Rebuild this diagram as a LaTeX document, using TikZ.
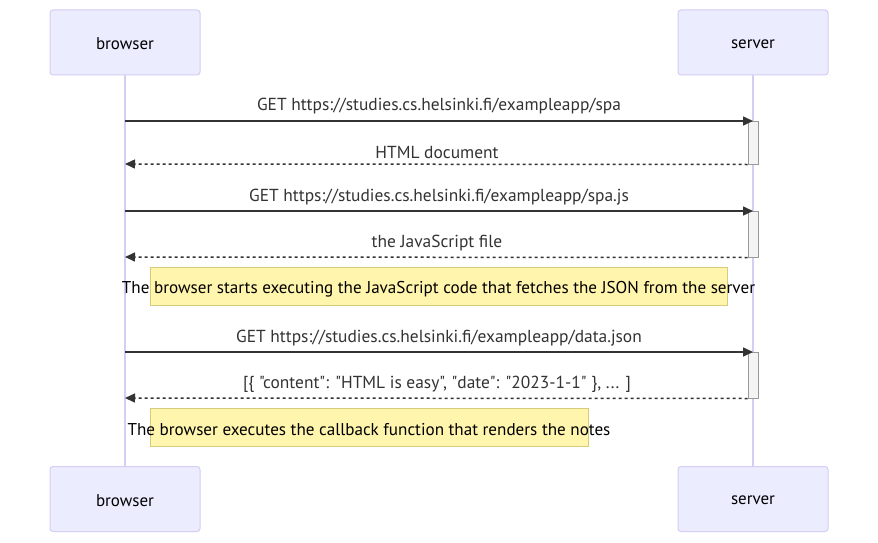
\documentclass[tikz,border=0pt]{standalone}
\usepackage{fontspec}
\setmainfont{PT Sans}[Ligatures=TeXOff]
\usetikzlibrary{arrows.meta}
\definecolor{actfill}{HTML}{ECECFF}
\definecolor{actline}{HTML}{D5CDF3}
\definecolor{notefill}{HTML}{FFF5AD}
\definecolor{noteline}{HTML}{D4CC7A}
\definecolor{sig}{HTML}{333333}
\definecolor{actvfill}{HTML}{F4F4F4}
\definecolor{actvline}{HTML}{999999}
\tikzset{
  actor/.style={draw=actline, fill=actfill, line width=1pt, rounded corners=3pt, minimum width=150pt, minimum height=65pt},
  actortext/.style={font=\fontsize{17}{19}\selectfont, text=black, inner sep=0pt},
  lifeline/.style={draw=actline, line width=1.5pt},
  msg/.style={draw=sig, line width=1.5pt, -{Triangle[length=10pt,width=9pt]}},
  ret/.style={msg, dash pattern=on 3pt off 3pt},
  lbl/.style={font=\fontsize{17.4}{19}\selectfont, text=sig, inner sep=0pt},
  notebox/.style={draw=noteline, fill=notefill, line width=1pt, minimum height=38pt, inner sep=0pt},
  notetext/.style={font=\fontsize{17.1}{19}\selectfont, text=black, inner sep=0pt},
  activ/.style={draw=actvline, fill=actvfill, line width=1pt, minimum width=10pt, inner sep=0pt},
}
\begin{document}
\begin{tikzpicture}[x=1pt,y=-1pt]
\useasboundingbox (0,0) rectangle (878,543);
\fill[white] (0,0) rectangle (878,543);
% actors
\node[actor] (bt) at (125,42.5) {};
\node[actor] (st) at (753,42.5) {};
\node[actor] (bb) at (125,499) {};
\node[actor] (sb) at (753,499) {};
\node[actortext] at ([yshift=-1.5pt]bt.center) {browser};
\node[actortext] at ([yshift=-1.5pt]st.center) {server};
\node[actortext] at ([yshift=-1.5pt]bb.center) {browser};
\node[actortext] at ([yshift=-1.5pt]sb.center) {server};
% lifelines
\draw[lifeline] (bt.south) -- (bb.north);
\draw[lifeline] (st.south) -- (sb.north);
% activations
\node[activ, minimum height=43pt] (a1) at (753,142.5) {};
\node[activ, minimum height=46pt] (a2) at (753,234) {};
\node[activ, minimum height=46pt] (a3) at (753,375) {};
% coordinates
\coordinate (b1) at (125,121); \coordinate (s1) at (753,121);
\coordinate (b2) at (125,164);
\coordinate (b3) at (125,211); \coordinate (s3) at (753,211);
\coordinate (b4) at (125,257);
\coordinate (b5) at (125,352); \coordinate (s5) at (753,352);
\coordinate (b6) at (125,398);
% messages
\draw[msg] (b1) -- (s1);
\node[lbl] (l1) at (439,106) {GET https://studies.cs.helsinki.fi/exampleapp/spa};
\draw[ret] (a1.south west) -- (b2);
\node[lbl] (l2) at (437,153) {HTML document};
\draw[msg] (b3) -- (s3);
\node[lbl] (l3) at (439,197) {GET https://studies.cs.helsinki.fi/exampleapp/spa.js};
\draw[ret] (a2.south west) -- (b4);
\node[lbl] (l4) at (437,243) {the JavaScript file};
% note 1
\node[notebox, minimum width=577pt] (n1) at (438.5,286) {};
\node[notetext] (t1) at (438.5,289) {The browser starts executing the JavaScript code that fetches the JSON from the server};
\draw[msg] (b5) -- (s5);
\node[lbl] (l5) at (439,338) {GET https://studies.cs.helsinki.fi/exampleapp/data.json};
\draw[ret] (a3.south west) -- (b6);
\node[lbl] (l6) at (437,384) {[\{ "content": "HTML is easy", "date": "2023-1-1" \}, ... ]};
% note 2
\node[notebox, minimum width=438pt] (n2) at (369,427) {};
\node[notetext] (t2) at (369,430) {The browser executes the callback function that renders the notes};
\end{tikzpicture}
\end{document}
